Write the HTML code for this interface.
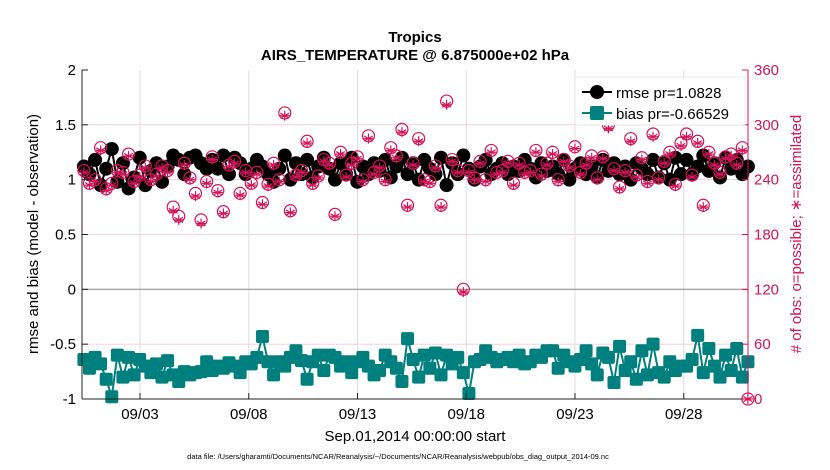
<!DOCTYPE html>
<html><head><meta charset="utf-8"><style>
body{margin:0;background:#fff;}
svg{display:block;font-family:"Liberation Sans",sans-serif;}
</style></head><body>
<svg id="chart" width="830" height="470">
<g id="grid"></g>
<g id="series"></g>
<g id="axes"></g>
<text x="415" y="42" text-anchor="middle" font-size="15" font-weight="bold">Tropics</text>
<text x="415" y="60" text-anchor="middle" font-size="15" font-weight="bold">AIRS_TEMPERATURE @ 6.875000e+02 hPa</text>
<text x="415" y="441" text-anchor="middle" font-size="15">Sep.01,2014 00:00:00 start</text>
<text x="398" y="459" text-anchor="middle" font-size="7.5">data file: /Users/gharamti/Documents/NCAR/Reanalysis/~/Documents/NCAR/Reanalysis/webpub/obs_diag_output_2014-09.nc</text>
<text transform="translate(38,234) rotate(-90)" text-anchor="middle" font-size="15">rmse and bias (model - observation)</text>
<text transform="translate(801,234) rotate(-90)" text-anchor="middle" font-size="15" fill="#d4145a"># of obs: o=possible; ∗=assimilated</text>
<g id="legend">
<rect x="575" y="77" width="170" height="48" fill="#fff" stroke="#ddd" stroke-width="0.6"/>
<g>
<line x1="582" y1="92" x2="612" y2="92" stroke="#000" stroke-width="2"/>
<circle cx="597" cy="92" r="7" fill="#000"/>
<text x="616" y="98" font-size="15">rmse pr=1.0828</text></g>
<g>
<line x1="582" y1="113" x2="612" y2="113" stroke="#007f7f" stroke-width="2"/>
<rect x="590" y="106" width="14" height="14" rx="2" fill="#007f7f"/>
<text x="616" y="119" font-size="15">bias pr=-0.66529</text></g>
</g>
</svg>
<script>
const dateTicks=[3,8,13,18,23,28];
const dateLabels=["09/03","09/08","09/13","09/18","09/23","09/28"];
const leftTicks=[-1,-0.5,0,0.5,1,1.5,2];
const leftLabels=["-1","-0.5","0","0.5","1","1.5","2"];
const rightTicks=[0,60,120,180,240,300,360];
const rmse=[1.12,1.05,1.18,0.95,1.10,1.28,0.98,1.15,0.92,1.02,1.20,0.95,1.08,1.15,0.98,1.12,1.22,1.18,1.05,1.20,1.22,1.15,1.10,1.18,1.10,1.22,1.05,1.20,1.15,1.05,1.10,1.18,1.12,1.05,0.98,1.10,1.22,1.00,1.15,1.05,1.18,1.02,1.12,1.20,1.10,1.00,1.15,1.05,1.20,0.98,1.12,1.05,1.15,1.08,1.18,1.02,1.12,1.20,1.05,1.15,1.00,1.18,1.10,1.05,1.20,0.95,1.15,1.05,1.22,1.10,1.00,1.12,1.18,1.05,1.10,1.15,1.05,1.12,1.08,1.18,1.10,1.02,1.15,1.08,1.12,1.05,1.18,1.00,1.10,1.15,1.05,1.12,1.02,1.18,1.08,1.15,1.05,1.12,1.00,1.15,1.10,1.05,1.18,1.02,1.15,1.00,1.20,1.05,1.18,1.05,1.12,1.22,1.08,1.15,1.02,1.20,1.10,1.18,1.05,1.12];
const bias=[-0.64,-0.72,-0.62,-0.68,-0.82,-0.98,-0.60,-0.80,-0.62,-0.78,-0.64,-0.70,-0.76,-0.68,-0.80,-0.65,-0.78,-0.84,-0.75,-0.78,-0.76,-0.75,-0.66,-0.74,-0.70,-0.72,-0.67,-0.70,-0.76,-0.66,-0.68,-0.62,-0.43,-0.66,-0.78,-0.66,-0.70,-0.62,-0.56,-0.65,-0.82,-0.66,-0.60,-0.74,-0.60,-0.62,-0.70,-0.66,-0.76,-0.66,-0.62,-0.70,-0.78,-0.74,-0.60,-0.66,-0.72,-0.84,-0.45,-0.64,-0.80,-0.60,-0.72,-0.58,-0.78,-0.60,-0.68,-0.62,-0.76,-0.95,-0.66,-0.64,-0.56,-0.62,-0.66,-0.64,-0.62,-0.66,-0.60,-0.68,-0.66,-0.60,-0.62,-0.56,-0.56,-0.72,-0.60,-0.66,-0.70,-0.64,-0.56,-0.68,-0.78,-0.58,-0.62,-0.85,-0.52,-0.74,-0.66,-0.82,-0.56,-0.78,-0.50,-0.76,-0.80,-0.66,-0.74,-0.70,-0.70,-0.64,-0.42,-0.76,-0.54,-0.70,-0.80,-0.60,-0.74,-0.54,-0.80,-0.66];
const possible=[250,236,240,275,230,236,250,248,268,238,245,255,240,246,255,250,210,200,258,242,225,196,238,265,228,205,256,260,225,250,236,248,215,235,258,240,313,206,245,250,282,236,244,262,258,202,270,245,258,265,240,288,248,255,240,275,266,295,212,258,285,240,238,255,212,326,262,250,120,250,242,260,240,272,248,250,260,236,258,248,250,272,246,258,270,240,262,255,276,248,258,266,242,265,300,252,232,250,285,245,264,238,290,242,260,270,235,280,290,245,282,212,270,258,248,265,268,258,275,0];
const assimilated=[248,234,238,272,228,234,248,246,266,236,243,253,238,244,253,248,206,196,256,240,222,192,236,262,226,203,254,258,223,248,234,246,213,233,256,238,310,204,243,248,280,234,242,260,256,200,268,243,256,263,238,285,246,253,238,272,264,292,210,256,282,238,236,253,210,322,260,248,117,248,240,258,238,270,246,248,258,234,256,246,248,270,244,256,268,238,260,253,274,246,256,264,240,263,296,250,230,248,282,243,262,236,287,240,258,268,233,277,287,243,280,210,268,256,246,263,266,256,272,0];
const startDay=0.42, stepDay=(30.95-0.42)/119;
const L=82,R=748,T=70,B=399;
const xS=d=>140+(d-3)*21.75;
const yL=v=>T+(2-v)*(B-T)/3;
const yR=v=>B-v*(B-T)/360;
const NS="http://www.w3.org/2000/svg";
function mk(tag,attrs,parent){const e=document.createElementNS(NS,tag);for(const k in attrs)e.setAttribute(k,attrs[k]);parent.appendChild(e);return e;}
const grid=document.getElementById('grid'),ser=document.getElementById('series'),ax=document.getElementById('axes');
leftTicks.forEach(v=>{if(v!==0&&v!==2&&v!==-1){const l=mk('line',{x1:L,x2:R,y1:yL(v),y2:yL(v),stroke:'#f6c6d8','stroke-width':0.8},grid);

}});
dateTicks.forEach(d=>{const l=mk('line',{x1:xS(d),x2:xS(d),y1:T,y2:B,stroke:'#ddd','stroke-width':1},grid);

});
const zl=mk('line',{x1:L,x2:R,y1:yL(0),y2:yL(0),stroke:'#aaa','stroke-width':1.5},grid);


const xs=rmse.map((_,i)=>xS(startDay+i*stepDay));
// rmse
const rl=mk('polyline',{points:rmse.map((v,i)=>xs[i]+','+yL(v)).join(' '),fill:'none',stroke:'#000','stroke-width':2},ser);


rmse.forEach((v,i)=>{const c=mk('circle',{cx:xs[i],cy:yL(v),r:7,fill:'#000'},ser);

});
// counts on top
possible.forEach((v,i)=>{const c=mk('circle',{cx:xs[i],cy:yR(v),r:6,fill:'none',stroke:'#d4145a','stroke-width':1.2},ser);

});
assimilated.forEach((v,i)=>{const g=mk('g',{stroke:'#d4145a','stroke-width':1.2},ser);


const x=xs[i],y=yR(v),r=5;
for(let a=0;a<3;a++){const t=a*Math.PI/3+Math.PI/2;mk('line',{x1:x-r*Math.cos(t),y1:y-r*Math.sin(t),x2:x+r*Math.cos(t),y2:y+r*Math.sin(t)},g);}
mk('line',{x1:x-r,y1:y,x2:x+r,y2:y},g);});
const bl=mk('polyline',{points:bias.map((v,i)=>xs[i]+','+yL(v)).join(' '),fill:'none',stroke:'#007f7f','stroke-width':2},ser);


bias.forEach((v,i)=>{const r=mk('rect',{x:xs[i]-6.5,y:yL(v)-6.5,width:13,height:13,rx:2,fill:'#007f7f'},ser);

});
// axes
mk('line',{x1:L,x2:L,y1:T,y2:B,stroke:'#222','stroke-width':1},ax);
mk('line',{x1:L,x2:R,y1:B,y2:B,stroke:'#222','stroke-width':1},ax);
mk('line',{x1:R,x2:R,y1:T,y2:B,stroke:'#d4145a','stroke-width':1},ax);
leftTicks.forEach((v,i)=>{mk('line',{x1:L,x2:L+6,y1:yL(v),y2:yL(v),stroke:'#222'},ax);
const t=mk('text',{x:L-6,y:yL(v)+5,'text-anchor':'end','font-size':15},ax);t.textContent=leftLabels[i];

});
rightTicks.forEach(v=>{mk('line',{x1:R-6,x2:R,y1:yR(v),y2:yR(v),stroke:'#d4145a'},ax);
const t=mk('text',{x:R+6,y:yR(v)+5,'font-size':15,fill:'#d4145a'},ax);t.textContent=v;

});
dateTicks.forEach((d,i)=>{mk('line',{x1:xS(d),x2:xS(d),y1:B-6,y2:B,stroke:'#222'},ax);
const t=mk('text',{x:xS(d),y:B+20,'text-anchor':'middle','font-size':15},ax);t.textContent=dateLabels[i];

});
</script>
</body></html>
